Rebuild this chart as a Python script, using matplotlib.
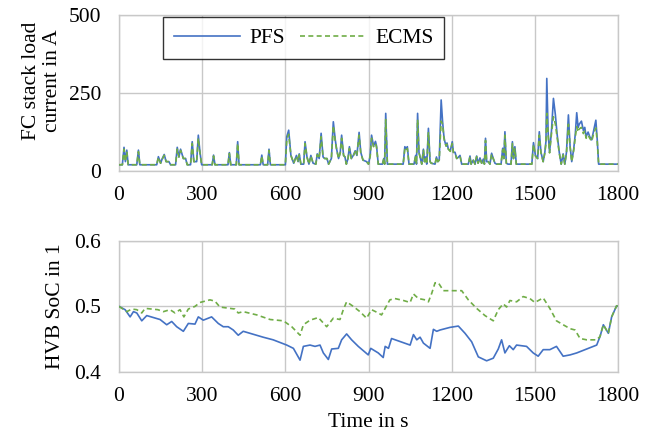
import matplotlib
matplotlib.use("Agg")
import matplotlib.pyplot as plt

plt.rcParams['font.family'] = ['Liberation Serif', 'DejaVu Serif']

# ---- top: FC stack load current (A) ----
cur_t = [0, 12, 18, 23, 28, 33, 64, 70, 75, 136, 142, 150, 156, 163, 170, 180, 186, 204, 210, 216, 222, 232, 240, 246,
         258, 264, 270, 280, 286, 292, 298, 336, 341, 346, 393, 398, 403, 423, 428, 433, 510, 515, 520, 536, 541, 546,
         600, 605, 612, 620, 630, 640, 646, 650, 656, 666, 671, 678, 685, 692, 700, 710, 715, 722, 729, 736, 742, 750,
         756, 766, 773, 780, 785, 792, 798, 803, 810, 815, 820, 826, 831, 838, 845, 852, 858, 866, 872, 880, 888, 893,
         900, 906, 911, 918, 925, 929, 935, 950, 955, 958, 962, 968, 1025, 1031, 1036, 1040, 1046, 1064, 1070, 1073,
         1077, 1082, 1086, 1092, 1098, 1102, 1106, 1110, 1116, 1122, 1126, 1140, 1145, 1150, 1155, 1162, 1167, 1172,
         1175, 1180, 1183, 1188, 1195, 1202, 1206, 1212, 1218, 1225, 1230, 1236, 1260, 1266, 1270, 1278, 1284, 1290,
         1295, 1302, 1308, 1314, 1318, 1322, 1326, 1332, 1338, 1344, 1350, 1356, 1362, 1378, 1384, 1388, 1392, 1397,
         1403, 1414, 1419, 1423, 1428, 1433, 1489, 1495, 1502, 1510, 1516, 1522, 1530, 1536, 1540, 1543, 1548, 1553,
         1560, 1567, 1574, 1580, 1588, 1595, 1602, 1608, 1614, 1621, 1627, 1633, 1640, 1646, 1651, 1656, 1660, 1668,
         1675, 1680, 1685, 1692, 1698, 1705, 1712, 1720, 1725, 1730, 1800]
cur_pfs = [20, 20, 76, 30, 67, 20, 20, 67, 20, 20, 46, 25, 40, 53, 30, 30, 20, 20, 76, 45, 70, 40, 40, 20,
           20, 94, 30, 30, 115, 60, 20, 20, 51, 20, 20, 59, 20, 20, 94, 20, 20, 51, 20, 20, 70, 20,
           20, 110, 131, 50, 25, 50, 30, 55, 22, 22, 94, 45, 22, 50, 25, 22, 55, 40, 121, 45, 40, 40,
           22, 40, 158, 100, 70, 40, 60, 115, 50, 45, 22, 40, 78, 40, 50, 65, 50, 124, 60, 35, 32, 30,
           22, 50, 115, 80, 95, 80, 22, 22, 40, 22, 185, 22, 22, 78, 70, 78, 22, 22, 50, 22,
           185, 60, 45, 22, 70, 30, 45, 22, 137, 30, 25, 22, 45, 30, 35, 228, 160, 110,
           95, 80, 90, 70, 65, 94, 60, 60, 40, 45, 50, 22, 22, 48, 22, 35, 22, 48,
           25, 42, 25, 38, 22, 105, 30, 30, 22, 57, 40, 25, 22, 22, 73, 40, 126, 25,
           22, 22, 94, 40, 78, 22, 22, 91, 50, 40, 126, 60, 30, 60, 95, 297, 120, 60,
           130, 233, 180, 120, 60, 22, 55, 22, 60, 180, 80, 30, 70, 120, 187, 140, 150, 160,
           130, 140, 110, 125, 110, 100, 130, 163, 100, 22, 22]
cur_ecms = [20, 20, 70, 30, 62, 20, 20, 62, 20, 20, 44, 25, 38, 50, 30, 30, 20, 20, 70, 45, 66, 40, 40, 20,
            20, 88, 30, 30, 105, 58, 20, 20, 48, 20, 20, 56, 20, 20, 88, 20, 20, 48, 20, 20, 66, 20,
            20, 100, 118, 50, 25, 48, 30, 52, 22, 22, 88, 45, 22, 48, 25, 22, 52, 40, 110, 45, 40, 40,
            22, 40, 145, 95, 68, 40, 58, 105, 50, 45, 22, 40, 72, 40, 48, 62, 50, 115, 58, 35, 32, 30,
            22, 48, 105, 78, 88, 76, 22, 22, 38, 22, 165, 22, 22, 72, 66, 72, 22, 22, 48, 22,
            165, 58, 45, 22, 66, 30, 44, 22, 125, 30, 25, 22, 44, 30, 35, 160, 150, 105,
            92, 80, 86, 70, 63, 88, 60, 58, 40, 44, 48, 22, 22, 46, 22, 34, 22, 46,
            25, 40, 25, 36, 22, 98, 30, 30, 22, 54, 40, 25, 22, 22, 68, 40, 115, 25,
            22, 22, 88, 40, 72, 22, 22, 85, 48, 40, 115, 58, 30, 58, 90, 185, 115, 58,
            120, 174, 150, 110, 58, 22, 52, 22, 58, 150, 78, 30, 66, 110, 142, 125, 135, 140,
            120, 128, 105, 115, 105, 95, 120, 138, 95, 22, 22]

# ---- bottom: HVB SoC ----
soc_pfs_t = [0, 22, 40, 52, 64, 82, 100, 148, 172, 190, 208, 232, 250, 274, 286, 304, 334, 358, 376, 394, 412, 430,
             448, 520, 556, 605, 629, 653, 665, 689, 707, 725, 737, 755, 767, 791, 803, 821, 839, 863, 899, 908, 935,
             953, 960, 972, 983, 1050, 1062, 1074, 1086, 1098, 1122, 1134, 1146, 1158, 1194, 1224, 1248, 1272, 1296,
             1326, 1350, 1368, 1380, 1392, 1408, 1422, 1434, 1470, 1494, 1512, 1530, 1554, 1578, 1602, 1627, 1651,
             1723, 1735, 1747, 1765, 1777, 1795, 1800]
soc_pfs = [0.500, 0.495, 0.484, 0.492, 0.490, 0.478, 0.486, 0.480, 0.472, 0.477, 0.469, 0.462, 0.474, 0.473, 0.484,
           0.479, 0.484, 0.474, 0.469, 0.469, 0.464, 0.456, 0.462, 0.453, 0.449, 0.441, 0.436, 0.418, 0.439, 0.441,
           0.439, 0.441, 0.429, 0.419, 0.435, 0.436, 0.449, 0.458, 0.449, 0.439, 0.426, 0.436, 0.429,
           0.422, 0.439, 0.436, 0.451, 0.441, 0.457, 0.449, 0.453, 0.444, 0.436, 0.465, 0.462, 0.464, 0.468, 0.470,
           0.459, 0.446, 0.423, 0.417, 0.421, 0.435, 0.449, 0.429, 0.440, 0.434, 0.441, 0.439, 0.429, 0.424, 0.434,
           0.434, 0.439, 0.424, 0.426, 0.429, 0.441, 0.454, 0.472, 0.459, 0.484, 0.501, 0.500]
soc_ecms_t = [0, 28, 46, 64, 82, 94, 140, 160, 184, 202, 220, 234, 250, 274, 292, 328, 346, 364, 400, 418, 430, 448,
              497, 545, 593, 623, 653, 665, 689, 719, 749, 773, 797, 809, 821, 845, 869, 893, 911, 935, 947, 960, 977,
              995, 1026, 1050, 1062, 1080, 1104, 1116, 1128, 1140, 1152, 1170, 1236, 1260, 1290, 1320, 1350, 1368,
              1386, 1398, 1410, 1434, 1458, 1482, 1500, 1530, 1554, 1578, 1602, 1627, 1645, 1663, 1687, 1723, 1735,
              1747, 1765, 1777, 1795, 1800]
soc_ecms = [0.500, 0.492, 0.496, 0.495, 0.490, 0.497, 0.495, 0.492, 0.495, 0.490, 0.495, 0.484, 0.496, 0.500, 0.506,
            0.510, 0.508, 0.499, 0.497, 0.496, 0.490, 0.492, 0.487, 0.480, 0.478, 0.469, 0.456, 0.472, 0.479, 0.483,
            0.469, 0.482, 0.480, 0.495, 0.507, 0.500, 0.492, 0.482, 0.495, 0.490, 0.487, 0.497, 0.510,
            0.512, 0.509, 0.506, 0.519, 0.512, 0.510, 0.507, 0.520, 0.536, 0.536, 0.524, 0.524, 0.510, 0.497, 0.486,
            0.478, 0.495, 0.504, 0.499, 0.509, 0.507, 0.515, 0.512, 0.506, 0.513, 0.497, 0.478, 0.472, 0.466, 0.464,
            0.451, 0.449, 0.449, 0.454, 0.472, 0.459, 0.484, 0.501, 0.500]

x_ticks = [0, 300, 600, 900, 1200, 1500, 1800]

BLUE = '#4472C4'
GREEN = '#70AD47'
GRID = '#C8C8C8'
FS = 15.5

fig = plt.figure(figsize=(6.54, 4.34), dpi=100)
ax1 = fig.add_axes([0.182, 0.606, 0.763, 0.359])
ax2 = fig.add_axes([0.182, 0.143, 0.763, 0.302])

ax1.plot(cur_t, cur_pfs, color=BLUE, lw=1.2, label='PFS', zorder=3)
ax1.plot(cur_t, cur_ecms, color=GREEN, lw=1.2, ls=(0, (3, 2)), label='ECMS', zorder=4)
ax2.plot(soc_pfs_t, soc_pfs, color=BLUE, lw=1.2, zorder=3)
ax2.plot(soc_ecms_t, soc_ecms, color=GREEN, lw=1.2, ls=(0, (3, 2)), zorder=4)

ax1.set_ylim(0, 500)
ax1.set_yticks([0, 250, 500])
ax2.set_ylim(0.4, 0.6)
ax2.set_yticks([0.4, 0.5, 0.6])
ax2.set_yticklabels(['0.4', '0.5', '0.6'])

for ax in (ax1, ax2):
    ax.set_xlim(0, 1800)
    ax.set_xticks(x_ticks)
    ax.grid(True, color=GRID, lw=1.0)
    ax.set_axisbelow(True)
    for s in ax.spines.values():
        s.set_color(GRID)
        s.set_linewidth(1.0)
    ax.tick_params(axis='both', length=0, labelsize=FS)
    ax.tick_params(axis='y', pad=13)
    ax.tick_params(axis='x', pad=11)

ax1.set_ylabel('FC stack load\ncurrent in A', fontsize=FS, linespacing=1.15)
ax1.yaxis.set_label_coords(-0.114, 0.58)
ax2.set_ylabel('HVB SoC in 1', fontsize=FS)
ax2.yaxis.set_label_coords(-0.108, 0.5)
ax2.set_xlabel('Time in s', fontsize=FS, labelpad=5)

leg = ax1.legend(loc='upper left', bbox_to_anchor=(0.088, 0.987), ncol=2,
                 fontsize=FS, frameon=True, fancybox=False, handlelength=3.1, borderaxespad=0,
                 columnspacing=0.7, handletextpad=0.4, borderpad=0.5)
leg.get_frame().set_edgecolor('black')
leg.get_frame().set_linewidth(1.0)

fig.savefig('out.png', dpi=100)
